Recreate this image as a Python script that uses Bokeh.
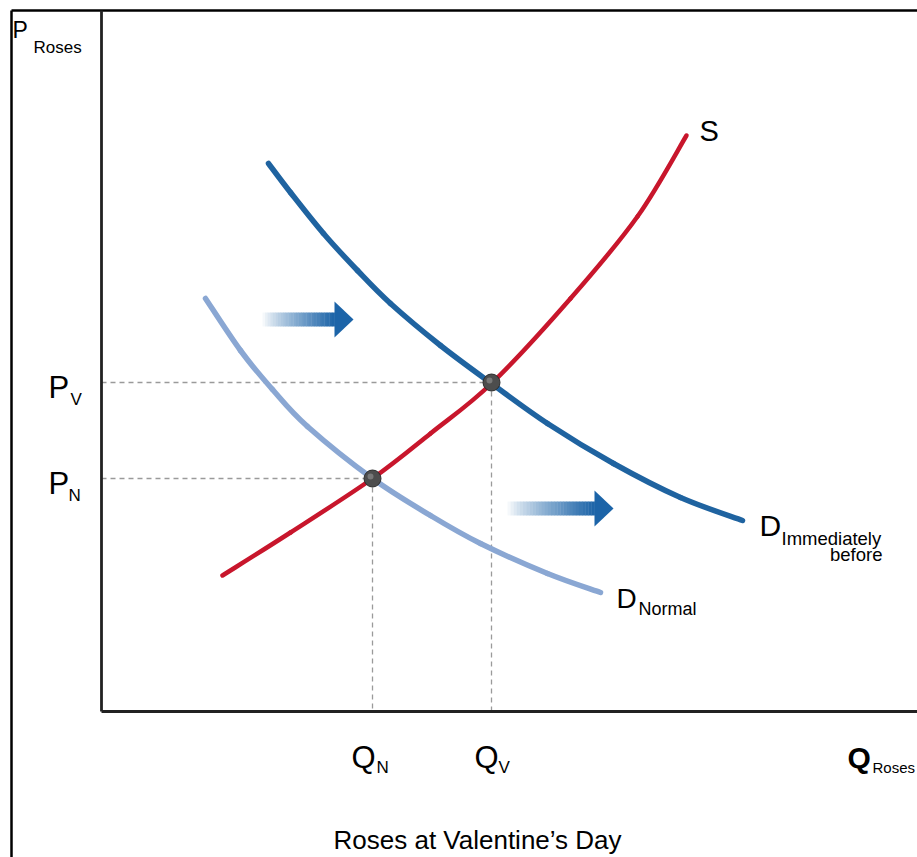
from bokeh.plotting import figure
from bokeh.models import Range1d
from bokeh.core.properties import value
from bokeh.embed import file_html
from bokeh.resources import INLINE

# ---- data (Q = quantity of roses, P = price; origin at the axes corner) ----
supply_q = [121, 189, 271, 329, 391, 469, 536, 585]
supply_p = [136, 179, 233, 278, 329, 413, 495, 576]

d_before_q = [167, 189, 222, 256, 289, 339, 390, 446, 512, 579, 641]
d_before_p = [548, 519, 478, 441, 408, 366, 328, 288, 248, 214, 191]

d_normal_q = [104, 139, 171, 206, 271, 329, 379, 446, 499]
d_normal_p = [413, 361, 322, 285, 233, 196, 168, 138, 119]

eq_q = [271, 390]          # Q_N, Q_V
eq_p = [233, 329]          # P_N, P_V

shift_tail_q = [161, 406]  # demand shift arrows
shift_tip_q = [252, 512]
shift_p = [392, 203]

FONT = "Liberation Sans"

p = figure(width=917, height=857, output_backend="svg", toolbar_location=None,
           x_range=Range1d(-101, 816), y_range=Range1d(-146, 711),
           min_border=0, outline_line_color=None)
p.axis.visible = False
p.grid.visible = False
p.background_fill_color = "white"
p.border_fill_color = "white"


def smooth_curve(xs, ys, color, width):
    """Draw a smooth curve through the read points (Catmull-Rom as Beziers)."""
    n = len(xs)
    X = [xs[0]] + list(xs) + [xs[-1]]
    Y = [ys[0]] + list(ys) + [ys[-1]]
    x0, y0, x1, y1, cx0, cy0, cx1, cy1 = ([] for _ in range(8))
    for i in range(1, n):
        x0.append(X[i]); y0.append(Y[i])
        x1.append(X[i + 1]); y1.append(Y[i + 1])
        cx0.append(X[i] + (X[i + 1] - X[i - 1]) / 6)
        cy0.append(Y[i] + (Y[i + 1] - Y[i - 1]) / 6)
        cx1.append(X[i + 1] - (X[i + 2] - X[i]) / 6)
        cy1.append(Y[i + 1] - (Y[i + 2] - Y[i]) / 6)
    p.bezier(x0=x0, y0=y0, x1=x1, y1=y1, cx0=cx0, cy0=cy0, cx1=cx1, cy1=cy1,
             line_color=color, line_width=width, line_cap="round")


# outer frame
p.segment(x0=[-90, -90], y0=[-146, 701], x1=[-90, 816], y1=[701, 701],
          line_color="black", line_width=2.5)

# dashed guides
for q, pr in zip(eq_q, eq_p):
    p.segment(x0=[0, q], y0=[pr, pr], x1=[q, q], y1=[pr, 0],
              line_color="#9a9a9a", line_width=1.3, line_dash="5 4")

# axes
p.segment(x0=[0, 0], y0=[0, 0], x1=[0, 816], y1=[701, 0],
          line_color="#222222", line_width=2.8)

# curves
smooth_curve(d_normal_q, d_normal_p, "#8aa7d3", 5.5)
smooth_curve(d_before_q, d_before_p, "#1f63a0", 5.5)
smooth_curve(supply_q, supply_p, "#c8162c", 4.5)

# shift arrows with a light-to-dark gradient shaft
ARROW_BLUE = (28, 100, 168)
for tq, hq, ap in zip(shift_tail_q, shift_tip_q, shift_p):
    head_len = 19
    shaft_end = hq - head_len
    n = 28
    step = (shaft_end - tq) / n
    lefts, rights, cols = [], [], []
    for i in range(n):
        f = ((i + 0.5) / n) ** 0.8
        c = tuple(int(255 + (v - 255) * f) for v in ARROW_BLUE)
        lefts.append(tq + i * step)
        rights.append(tq + (i + 1) * step + 0.4)
        cols.append("#%02x%02x%02x" % c)
    p.quad(left=lefts, right=rights, bottom=[ap - 7] * n, top=[ap + 7] * n,
           fill_color=cols, line_color=None)
    p.patch([shaft_end, hq, shaft_end], [ap + 18, ap, ap - 18],
            fill_color="#1c64a8", line_color=None)

# equilibrium points
p.scatter(eq_q, eq_p, size=17, fill_color="#4d4d4d", line_color="#2b2b2b",
          line_width=1)
p.scatter([q - 2 for q in eq_q], [v + 2 for v in eq_p], size=6,
          fill_color="#8a8a8a", line_color=None, fill_alpha=0.7)


def label(x, y, txt, size, align="left", style="normal", color="black"):
    p.text(x=[x], y=[y], text=[txt], text_font=value(FONT),
           text_font_size=f"{size}px", text_baseline="alphabetic",
           text_align=align, text_font_style=style, text_color=color)


# axis titles
label(-89, 682, "P", 23)
label(-68, 664, "Roses", 17)
label(746, -46, "Q", 30, style="bold")
label(771, -56, "Roses", 15)

# price / quantity labels
label(-53, eq_p[1] - 5, "P", 31)
label(-31, eq_p[1] - 17, "V", 17)
label(-53, eq_p[0] - 5, "P", 31)
label(-33, eq_p[0] - 17, "N", 17)
label(eq_q[0] - 21, -46, "Q", 31)
label(eq_q[0] + 4, -56, "N", 17)
label(eq_q[1] - 17, -46, "Q", 31)
label(eq_q[1] + 7, -56, "V", 17)

# curve labels
label(598, 581, "S", 29)
label(658, 186, "D", 30)
label(680, 173, "Immediately", 18.5)
label(781, 157, "before", 18.5, align="right")
label(515, 113, "D", 28)
label(537, 103, "Normal", 18)

label(232, -128, "Roses at Valentine\u2019s Day", 26)

open("out.html", "w").write(file_html(p, INLINE))
